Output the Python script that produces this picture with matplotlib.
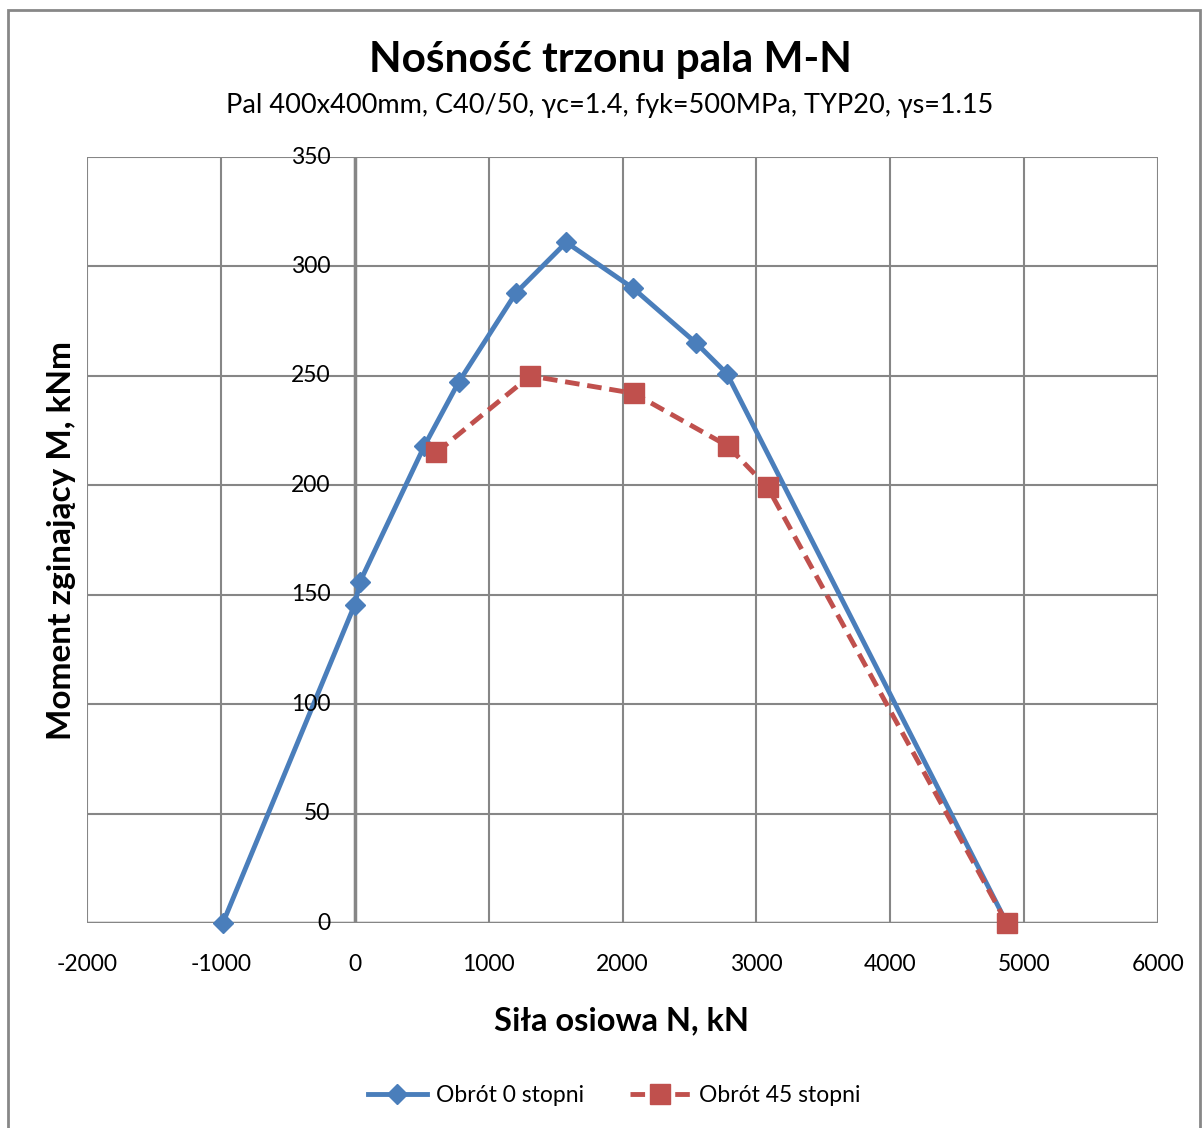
import matplotlib
matplotlib.use("Agg")
import matplotlib.pyplot as plt
from matplotlib.patches import Rectangle

plt.rcParams['font.family'] = ['Lato', 'DejaVu Sans']
plt.rcParams['axes.unicode_minus'] = False

# Obrot 0 stopni
n_0 = [-985, 0, 40, 520, 775, 1205, 1580, 2080, 2550, 2780, 4870]
m_0 = [0, 145.5, 156, 218, 247, 288, 311, 290, 265, 251, 0]

# Obrot 45 stopni
n_45 = [610, 1310, 2085, 2785, 3085, 4870]
m_45 = [215, 250, 242, 218, 199, 0]

x_ticks = [-2000, -1000, 0, 1000, 2000, 3000, 4000, 5000, 6000]
y_ticks = [0, 50, 100, 150, 200, 250, 300, 350]

blue = '#4a7ebb'
red = '#c0504d'
grid_c = '#868686'

fig = plt.figure(figsize=(12.02, 11.28), dpi=100)
ax = fig.add_axes([87/1202, 1-923/1128, (1158-87)/1202, (923-157)/1128])

ax.plot(n_0, m_0, color=blue, lw=3.5, marker='D', markersize=10.5,
        label='Obrót 0 stopni', zorder=3, clip_on=False)
ax.plot(n_45, m_45, color=red, lw=3.5, ls=(0, (3, 1.6)), marker='s', markersize=14,
        label='Obrót 45 stopni', zorder=4, clip_on=False)

ax.set_xlim(-2000, 6000)
ax.set_ylim(0, 350)
ax.set_xticks(x_ticks)
ax.set_yticks(y_ticks)
ax.grid(True, color=grid_c, lw=1.5)
ax.set_axisbelow(True)
for s in ax.spines.values():
    s.set_visible(False)
ax.axvline(0, color=grid_c, lw=2.5, zorder=1)
ax.axhline(0, color=grid_c, lw=2.5, zorder=1)
ax.tick_params(length=0, labelsize=16.5)
ax.tick_params(axis='x', pad=22)
# y tick labels sit next to the axis at x=0
ax.set_yticklabels([])
for v in y_ticks:
    ax.text(-180, v, str(v), ha='right', va='center', fontsize=16.5)

fig.text(610/1202, 1-60/1128, 'Nośność trzonu pala M-N', ha='center', va='center',
         fontsize=30.5, fontweight='bold')
fig.text(610/1202, 1-106/1128, 'Pal 400x400mm, C40/50, γc=1.4, fyk=500MPa, TYP20, γs=1.15',
         ha='center', va='center', fontsize=19.5)
fig.text(622/1202, 1-1021/1128, 'Siła osiowa N, kN', ha='center', va='center',
         fontsize=23.5, fontweight='bold')
fig.text(62/1202, 1-540/1128, 'Moment zginający M, kNm', ha='center', va='center',
         fontsize=24, fontweight='bold', rotation=90)

fig.legend(loc='center', bbox_to_anchor=(614/1202, 1-1096/1128), ncol=2, frameon=False,
           fontsize=16.5, handlelength=2.6, columnspacing=2.0, handletextpad=0.4)

fig.patches.append(Rectangle((8/1202, -0.01), 1192/1202, 1-10/1128 + 0.01,
                             transform=fig.transFigure, fill=False,
                             edgecolor='#878787', lw=2))

fig.savefig('out.png', dpi=100)
